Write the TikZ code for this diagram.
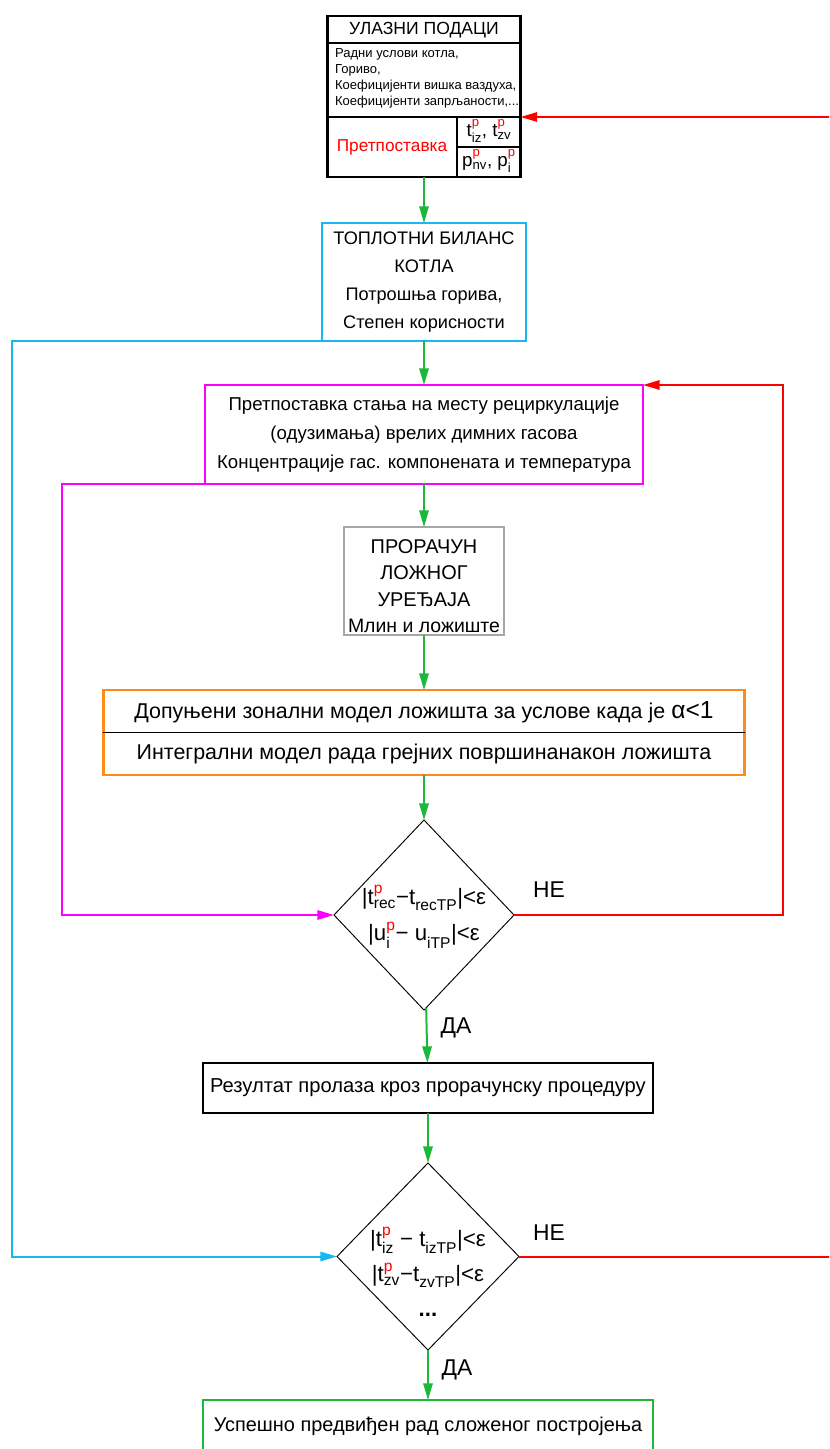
\documentclass[tikz,border=0pt]{standalone}
\usepackage{amsmath}
\usepackage{fontspec}
\setmainfont{Liberation Sans}
\usepackage{tikz}
\usetikzlibrary{arrows.meta,shapes.geometric}
\definecolor{grnc}{HTML}{1DB83A}
\definecolor{cyac}{HTML}{18B7F0}
\definecolor{magc}{HTML}{FF00FF}
\definecolor{redc}{HTML}{FF0000}
\definecolor{orac}{HTML}{FF8A1C}
\definecolor{gryc}{HTML}{A6A6A6}
\newcommand{\sbp}[2]{\ensuremath{^{\text{\color{redc}#1}}_{\text{#2}}}}
\tikzset{
  ar/.style={-{Triangle[length=5mm,width=2.8mm]},line width=1.7pt},
  box/.style={draw,line width=2pt,align=center,inner sep=0pt,outer sep=0pt},
  dia/.style={diamond,draw=black,line width=0.8pt,inner sep=0pt,outer sep=0pt},
  fbig/.style={font=\fontsize{15.5}{18}\selectfont},
  fmid/.style={font=\fontsize{15.5}{24}\selectfont,align=center},
  fsml/.style={font=\fontsize{11.1}{13.6}\selectfont,align=left},
  fdia/.style={font=\fontsize{19}{31.5}\selectfont,align=center},
  lbl/.style={font=\fontsize{19.5}{22}\selectfont}
}
\begin{document}
\begin{tikzpicture}[x=0.03cm,y=-0.03cm]
\useasboundingbox (0,0) rectangle (829,1449);
\clip (0,0) rectangle (829,1449);
\node[box,line width=2.4pt,minimum width=5.79cm,minimum height=4.83cm] (inp) at (424,96.5) {};
\draw[line width=2.4pt] (inp.west |- 0,43) -- (inp.east |- 0,43);
\draw[line width=2.4pt] (inp.west |- 0,117) -- (inp.east |- 0,117);
\draw[line width=2.4pt] (457,117) -- (457,177);
\draw[line width=2.4pt] (457,147) -- (inp.east |- 0,147);
\coordinate (inpr) at (inp.east |- 0,117);
\node[fbig,font=\fontsize{15}{18}\selectfont] (ttl) at (424,30) {УЛАЗНИ ПОДАЦИ};
\node[fsml,anchor=west] (lst) at (331,78) {Радни услови котла,\\Гориво,\\Коефицијенти вишка ваздуха,\\Коефицијенти запрљаности,...};
\node[font=\fontsize{14.7}{16}\selectfont,text=redc] (pre) at (392,147) {Претпоставка};
\node[fbig,font=\fontsize{16}{18}\selectfont] (tpa) at (489,131) {t\sbp{p}{iz}, t\sbp{p}{zv}};
\node[fbig,font=\fontsize{16}{18}\selectfont] (tpb) at (489,161) {p\sbp{p}{nv}, p\sbp{p}{i}};
\node[box,draw=cyac,minimum width=6.12cm,minimum height=3.54cm,fmid] (top) at (424,282) {ТОПЛОТНИ БИЛАНС\\КОТЛА\\Потрошња горива,\\Степен корисности};
\node[box,draw=magc,minimum width=13.14cm,minimum height=2.97cm,fmid,font=\fontsize{15.9}{25}\selectfont] (mag) at (424,434.5) {Претпоставка стања на месту рециркулације\\(одузимања) врелих димних гасова\\Концентрације гас. компонената и температура};
\node[box,draw=gryc,minimum width=4.8cm,minimum height=3.24cm,align=center,font=\fontsize{17}{22.5}\selectfont] (prp) at (424,581) {};
\node[align=center,font=\fontsize{17}{22.5}\selectfont] (prt) at (424,586) {ПРОРАЧУН\\ЛОЖНОГ\\УРЕЂАЈА\\{\fontsize{16.6}{22.5}\selectfont Млин и ложиште}};
\node[box,draw=orac,minimum width=19.23cm,minimum height=2.55cm] (ora) at (424,732.5) {};
\draw[line width=0.8pt] (ora.west) -- (ora.east);
\node[fmid,font=\fontsize{18.3}{22}\selectfont] (oraa) at (424,712) {Допуњени зонални модел ложишта за услове када је {\fontsize{21}{22}\selectfont α<1}};
\node[fmid,font=\fontsize{18.3}{22}\selectfont] (orab) at (424,754) {Интегрални модел рада грејних површинанакон ложишта};
\node[dia,minimum width=5.4cm,minimum height=5.7cm] (dm1) at (424,915) {};
\node[fdia] (dt1) at (424,917) {|t\sbp{p}{rec}−t\sbp{}{recTP}|<ε\\|u\sbp{p}{i}− u\sbp{}{iTP}|<ε};
\node[box,line width=2.4pt,minimum width=13.5cm,minimum height=1.5cm,fmid,font=\fontsize{17.2}{20}\selectfont] (res) at (428,1088) {Резултат пролаза кроз прорачунску процедуру};
\node[dia,minimum width=5.46cm,minimum height=5.61cm] (dm2) at (428,1256.5) {};
\node[fdia,font=\fontsize{19}{30}\selectfont] (dt2) at (428,1272) {|t\sbp{p}{iz} − t\sbp{}{izTP}|<ε\\|t\sbp{p}{zv}−t\sbp{}{zvTP}|<ε\\\textbf{...}};
\node[box,draw=grnc,minimum width=13.5cm,minimum height=1.56cm,fmid,font=\fontsize{17}{20}\selectfont] (fin) at (428,1426) {Успешно предвиђен рад сложеног постројења};
\node[lbl] (ne1) at (549,890) {НЕ};
\node[lbl] (ne2) at (549,1233) {НЕ};
\node[lbl] (da1) at (456,1028) {ДА};
\node[lbl] (da2) at (457,1370) {ДА};
\coordinate (cyk) at (12,0);
\coordinate (mgk) at (62,0);
\coordinate (rdk) at (783,0);
\coordinate (rdo) at (836,0);
\draw[ar,grnc] (inp) -- (top);
\draw[ar,grnc] (top) -- (mag);
\draw[ar,grnc] (mag) -- (prp);
\draw[ar,grnc] (prp) -- (ora);
\draw[ar,grnc] (ora) -- (dm1);
\draw[ar,grnc] (dm1) -- (res);
\draw[ar,grnc] (res) -- (dm2);
\draw[ar,grnc] (dm2) -- (fin);
\draw[ar,cyac] (top.south west) -- (top.south west -| cyk) |- (dm2.west);
\draw[ar,magc] (mag.south west) -- (mag.south west -| mgk) |- (dm1.west);
\draw[ar,redc] (dm1.east) -- (dm1.east -| rdk) |- (mag.north east);
\draw[ar,redc] (dm2.east) -- (dm2.east -| rdo) |- (inpr);
\end{tikzpicture}
\end{document}
